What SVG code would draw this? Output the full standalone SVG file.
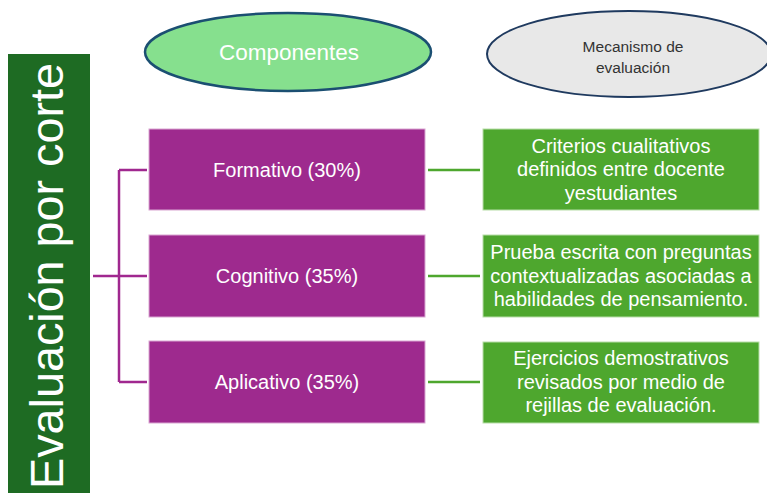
<svg xmlns="http://www.w3.org/2000/svg" width="767" height="493" viewBox="0 0 767 493">
<style>
.purple{fill:#9E2A8E;stroke:#D9A6D2;stroke-width:1}
.green{fill:#4EA72E;stroke:#B7DDA8;stroke-width:1}
.t{font-family:"Liberation Sans",Arial,sans-serif;fill:#FFFFFF;text-anchor:middle;dominant-baseline:central;font-size:20px}
.pl{stroke:#A0288F;stroke-width:2.5;fill:none}
.gl{stroke:#4EA72E;stroke-width:2.5;fill:none}
</style>
<rect width="767" height="493" fill="#FFFFFF"/>
<g id="title">
<rect x="8" y="54" width="82" height="439" fill="#1E6B23"/>
<text x="63" y="276" transform="rotate(-90 63 276)" font-family="'Liberation Sans',Arial,sans-serif" font-size="47" fill="#FFFFFF" text-anchor="middle" textLength="426" lengthAdjust="spacingAndGlyphs">Evaluación por corte</text>
</g>
<g id="componentes">
<ellipse cx="288" cy="52" rx="143" ry="39" fill="#86E08E" stroke="#1B4F72" stroke-width="2.5"/>
<text class="t" x="289" y="52" style="font-size:22.5px">Componentes</text>
</g>
<g id="mecanismo">
<ellipse cx="629" cy="54" rx="142" ry="43" fill="#E8E8E8" stroke="#1F3A5F" stroke-width="2"/>
<text x="633" y="46" font-family="'Liberation Sans',Arial,sans-serif" font-size="15.5" fill="#333333" text-anchor="middle" dominant-baseline="central">Mecanismo de</text>
<text x="633" y="67" font-family="'Liberation Sans',Arial,sans-serif" font-size="15.5" fill="#333333" text-anchor="middle" dominant-baseline="central">evaluación</text>
</g>
<g id="connectors">
<path class="pl" d="M93 276H119M119 170V382M119 170H147M119 276H147M119 382H147"/>
<path class="gl" d="M428 170H480M428 276H480M428 382H480"/>
</g>
<g id="formativo">
<rect class="purple" x="149" y="129" width="276" height="81"/>
<text class="t" x="287" y="170">Formativo (30%)</text>
</g>
<g id="cognitivo">
<rect class="purple" x="149" y="235" width="276" height="82"/>
<text class="t" x="287" y="276">Cognitivo (35%)</text>
</g>
<g id="aplicativo">
<rect class="purple" x="149" y="341" width="276" height="82"/>
<text class="t" x="287" y="382">Aplicativo (35%)</text>
</g>
<g id="mec1">
<rect class="green" x="483" y="129" width="276" height="81"/>
<text class="t" x="621" y="145.5">Criterios cualitativos</text>
<text class="t" x="621" y="169">definidos entre docente</text>
<text class="t" x="621" y="192.5">yestudiantes</text>
</g>
<g id="mec2">
<rect class="green" x="483" y="235" width="276" height="82"/>
<text class="t" x="621" y="252">Prueba escrita con preguntas</text>
<text class="t" x="621" y="275.5">contextualizadas asociadas a</text>
<text class="t" x="621" y="299">habilidades de pensamiento.</text>
</g>
<g id="mec3">
<rect class="green" x="483" y="342" width="276" height="81"/>
<text class="t" x="621" y="358">Ejercicios demostrativos</text>
<text class="t" x="621" y="381.5">revisados por medio de</text>
<text class="t" x="621" y="405">rejillas de evaluación.</text>
</g>
</svg>
